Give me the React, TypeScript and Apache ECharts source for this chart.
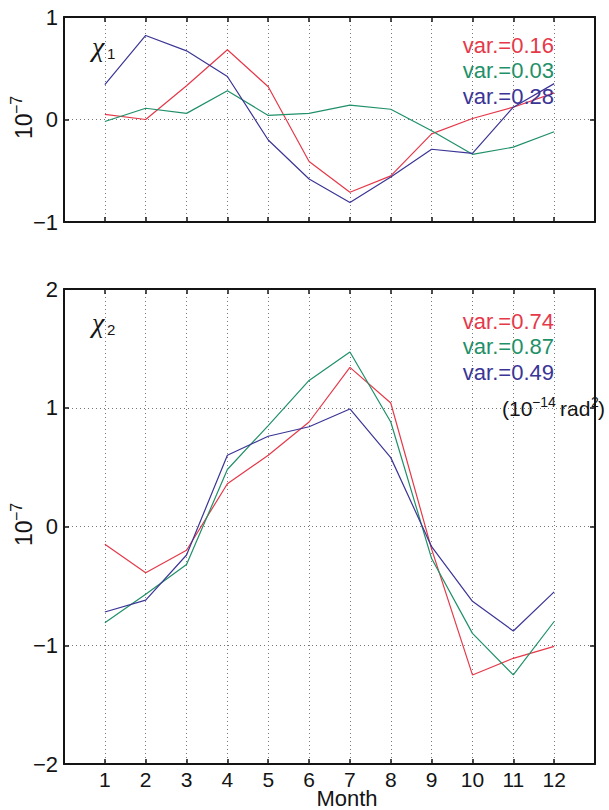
import React, { useEffect, useRef } from "react";
import * as echarts from "echarts";

const months = [1, 2, 3, 4, 5, 6, 7, 8, 9, 10, 11, 12];

const chi1Red = [0.05, 0.0, 0.33, 0.68, 0.32, -0.41, -0.71, -0.55, -0.14, 0.01, 0.12, 0.26];
const chi1Green = [-0.02, 0.11, 0.06, 0.28, 0.04, 0.06, 0.14, 0.1, -0.11, -0.34, -0.27, -0.12];
const chi1Blue = [0.34, 0.82, 0.67, 0.42, -0.2, -0.58, -0.81, -0.56, -0.29, -0.33, 0.12, 0.35];

const chi2Red = [-0.15, -0.39, -0.2, 0.36, 0.6, 0.88, 1.34, 1.04, -0.19, -1.25, -1.11, -1.01];
const chi2Green = [-0.81, -0.57, -0.32, 0.48, 0.85, 1.23, 1.47, 0.88, -0.27, -0.9, -1.25, -0.8];
const chi2Blue = [-0.72, -0.62, -0.24, 0.6, 0.76, 0.84, 0.99, 0.58, -0.17, -0.63, -0.88, -0.55];

const chi1Vars = ["var.=0.16", "var.=0.03", "var.=0.28"];
const chi2Vars = ["var.=0.74", "var.=0.87", "var.=0.49"];

const RED = "#e5394a";
const GREEN = "#1f9068";
const BLUE = "#3b3596";
const FONT = "'Liberation Sans', Arial, sans-serif";
const INK = "#141414";

const pairs = (vals: number[]) => months.map((m, i) => [m, vals[i]]);

export default function App() {
  const ref = useRef<HTMLDivElement>(null);
  useEffect(() => {
    if (!ref.current) return;
    const chart = echarts.init(ref.current, undefined, { renderer: "svg" });

    const minusFmt = (v: number) => (v < 0 ? "\u2212" + Math.abs(v) : String(v));
    const monthFmt = (v: number) => (v >= 1 && v <= 12 ? String(v) : "");

    const split = { show: true, showMinLine: false, showMaxLine: false, lineStyle: { color: "#777", type: [1, 3], width: 1 } };
    const axLine = { show: true, onZero: false, lineStyle: { color: INK, width: 2 } };
    const tick = { show: true, inside: true, length: 5, lineStyle: { color: INK, width: 1.5 } };

    const xBase = (grid: number, pos: string, labels: boolean, splitOn: boolean) => ({
      type: "value",
      gridIndex: grid,
      position: pos,
      min: 0,
      max: 13,
      interval: 1,
      axisLine: axLine,
      axisTick: tick,
      splitLine: splitOn ? split : { show: false },
      axisLabel: labels
        ? { show: true, formatter: monthFmt, fontSize: 21, lineHeight: 20, color: INK, fontFamily: FONT, margin: 5 }
        : { show: false },
    });

    const yBase = (grid: number, pos: string, min: number, max: number, labels: boolean) => ({
      type: "value",
      gridIndex: grid,
      position: pos,
      min,
      max,
      interval: 1,
      axisLine: axLine,
      axisTick: tick,
      splitLine: labels ? split : { show: false },
      axisLabel: labels
        ? { show: true, formatter: minusFmt, fontSize: 22, color: INK, fontFamily: FONT, margin: 6 }
        : { show: false },
    });

    const lineSeries = (x: number, y: number, vals: number[], color: string, name: string) => ({
      type: "line",
      name,
      xAxisIndex: x,
      yAxisIndex: y,
      data: pairs(vals),
      symbol: "none",
      lineStyle: { color, width: 1.2 },
      itemStyle: { color },
      z: 3,
    });

    const txt = (text: string, x: number, y: number, size: number, color: string, align = "left", family = FONT, extra: any = {}) => ({
      type: "text",
      x,
      y,
      z: 10,
      style: {
        text,
        fill: color,
        fontSize: size,
        fontFamily: family,
        textAlign: align,
        textVerticalAlign: "middle",
        ...extra,
      },
    });

    const varText = (t: string, y: number, color: string) => txt(t, 554, y, 22, color, "right");

    const yName = (cy: number) => ({
      type: "group",
      x: 24,
      y: cy,
      rotation: Math.PI / 2,
      children: [
        txt("10", -23, 0, 23, INK, "left"),
        txt("\u22127", 2, -8, 16, INK, "left"),
      ],
    });

    const chi = (sub: string, x: number, y: number) => ({
      type: "group",
      x,
      y,
      children: [
        txt("\u03c7", 0, 0, 28, INK, "left", "'Liberation Serif', serif", { fontStyle: "italic" }),
        txt(sub, 15, 7, 15, INK, "left"),
      ],
    });

    chart.setOption({
      animation: false,
      backgroundColor: "#ffffff",
      grid: [
        { left: 64, top: 17, width: 531, height: 205 },
        { left: 64, top: 289, width: 531, height: 475 },
      ],
      xAxis: [
        xBase(0, "bottom", false, true),
        xBase(0, "top", false, false),
        xBase(1, "bottom", true, true),
        xBase(1, "top", false, false),
      ],
      yAxis: [
        yBase(0, "left", -1, 1, true),
        yBase(0, "right", -1, 1, false),
        yBase(1, "left", -2, 2, true),
        yBase(1, "right", -2, 2, false),
      ],
      series: [
        lineSeries(0, 0, chi1Red, RED, "chi1 red"),
        lineSeries(0, 0, chi1Green, GREEN, "chi1 green"),
        lineSeries(0, 0, chi1Blue, BLUE, "chi1 blue"),
        lineSeries(2, 2, chi2Red, RED, "chi2 red"),
        lineSeries(2, 2, chi2Green, GREEN, "chi2 green"),
        lineSeries(2, 2, chi2Blue, BLUE, "chi2 blue"),
      ],
      graphic: [
        varText(chi1Vars[0], 45, RED),
        varText(chi1Vars[1], 70, GREEN),
        varText(chi1Vars[2], 96, BLUE),
        varText(chi2Vars[0], 321, RED),
        varText(chi2Vars[1], 346, GREEN),
        varText(chi2Vars[2], 372, BLUE),
        {
          type: "group",
          x: 502,
          y: 408,
          children: [
            txt("(10", 0, 0, 21, INK, "left"),
            txt("\u221214", 30, -6, 14, INK, "left"),
            txt("rad", 58, 0, 21, INK, "left"),
            txt("2", 89, -6, 14, INK, "left"),
            txt(")", 96, 0, 21, INK, "left"),
          ],
        },
        yName(116),
        yName(523),
        chi("1", 92, 46),
        chi("2", 92, 322),
        txt("Month", 347, 798, 22, INK, "center", FONT, { lineHeight: 22 }),
      ],
    });
    return () => chart.dispose();
  }, []);
  return <div ref={ref} style={{ position: "fixed", left: 0, top: 0, width: 609, height: 810, background: "#fff" }} />;
}
